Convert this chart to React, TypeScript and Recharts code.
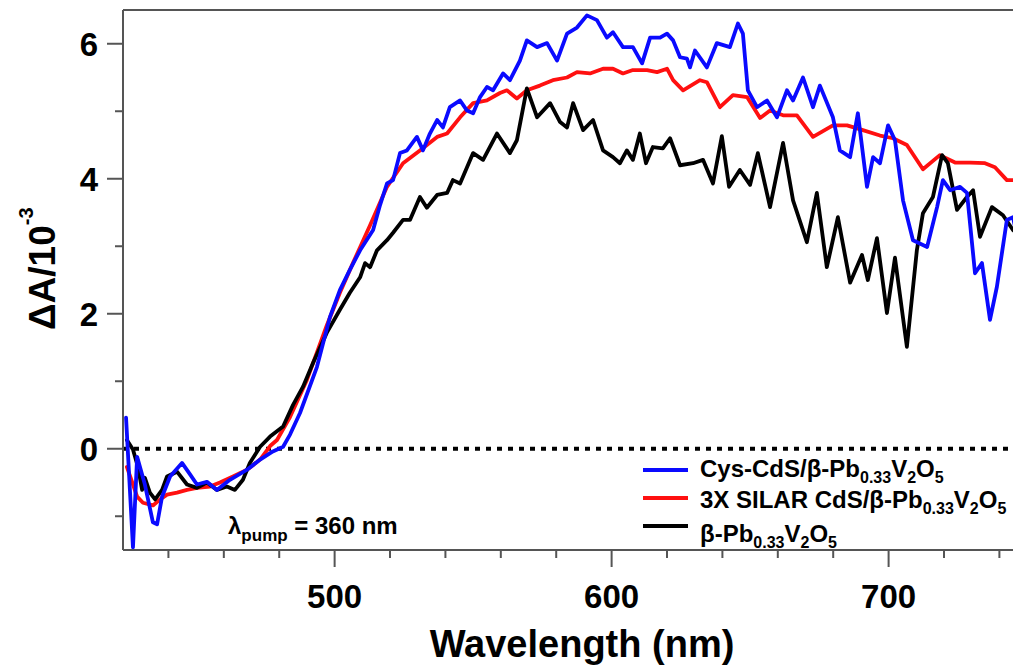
import { LineChart, Line, XAxis, YAxis, ReferenceLine } from "recharts";

// wavelength (nm) / ΔA (10^-3)
const cysNm = [
  424.7, 427.2, 428.7, 431.5, 434.4, 435.9, 437.7, 440.6, 444.9, 447.8,
  450.3, 453.9, 457.5, 462.2, 468.4, 473.1, 477.7, 481.4, 483.9, 487.5,
  493.6, 498.3, 501.9, 505.5, 509.2, 513.9, 516.4, 518.9, 521.1, 523.6,
  526.1, 529.7, 531.9, 534.4, 537.0, 539.1, 541.6, 545.3, 547.8, 550.0,
  552.5, 555.0, 557.2, 560.8, 563.3, 566.9, 569.4, 573.1, 576.7, 580.3,
  583.9, 587.5, 591.1, 594.7, 598.3, 600.5, 604.1, 607.7, 611.0, 613.9,
  617.5, 620.0, 622.2, 624.7, 627.2, 628.3, 630.1, 634.4, 638.0, 642.7,
  645.6, 647.4, 649.2, 652.5, 656.1, 659.7, 663.3, 665.5, 669.1, 672.7,
  675.2, 679.9, 682.4, 686.1, 688.9, 692.2, 694.4, 696.9, 699.8, 702.3,
  705.2, 708.8, 713.9, 717.5, 719.6, 722.2, 725.8, 728.3, 731.2, 733.7,
  736.6, 739.1, 742.7, 744.9, 747.8,
];
const cysDA = [
  0.46, -1.46, -0.12, -0.53, -1.09, -1.12, -0.71, -0.41, -0.21, -0.38,
  -0.53, -0.49, -0.61, -0.46, -0.31, -0.16, -0.04, 0.03, 0.21, 0.53,
  1.21, 1.95, 2.35, 2.65, 2.94, 3.24, 3.61, 3.93, 3.98, 4.38,
  4.42, 4.62, 4.42, 4.67, 4.87, 4.76, 5.06, 5.16, 5.01, 4.97,
  5.21, 5.36, 5.31, 5.56, 5.46, 5.75, 6.05, 5.95, 6.01, 5.75,
  6.15, 6.24, 6.42, 6.35, 6.09, 6.17, 5.95, 5.95, 5.71, 6.09,
  6.09, 6.15, 6.05, 5.8, 5.78, 5.65, 5.9, 5.65, 6.01, 5.95,
  6.3, 6.15, 5.31, 5.06, 5.16, 4.91, 5.31, 5.16, 5.5, 5.06,
  5.38, 4.91, 4.42, 4.32, 4.97, 3.88, 4.32, 4.23, 4.79, 4.57,
  3.68, 3.09, 2.99, 3.58, 3.98, 3.83, 3.88, 3.79, 2.6, 2.75,
  1.91, 2.4, 3.39, 3.43, 2.87,
];

const silarNm = [
  425.0, 428.7, 430.8, 434.4, 437.0, 439.5, 443.1, 446.7, 450.3, 455.0,
  458.6, 463.3, 468.4, 473.1, 476.7, 479.2, 483.9, 490.0, 497.2, 501.9,
  506.6, 512.8, 518.9, 524.7, 530.8, 537.0, 540.6, 545.3, 550.0, 555.0,
  559.7, 562.2, 565.8, 569.4, 574.1, 578.8, 583.9, 587.5, 592.2, 596.9,
  600.5, 604.1, 607.7, 612.8, 616.4, 620.0, 622.2, 625.8, 631.9, 634.4,
  639.1, 643.8, 648.9, 653.6, 657.2, 661.9, 666.9, 672.7, 679.9, 685.0,
  690.7, 696.9, 701.6, 706.6, 712.4, 718.5, 724.0, 729.4, 734.8, 738.4,
  742.7, 747.8,
];
const silarDA = [
  -0.27, -0.71, -0.8, -0.84, -0.75, -0.68, -0.65, -0.61, -0.58, -0.56,
  -0.5, -0.41, -0.31, -0.16, 0.04, 0.13, 0.47, 1.02, 1.83, 2.31,
  2.75, 3.31, 3.88, 4.23, 4.42, 4.62, 4.67, 4.91, 5.12, 5.16,
  5.27, 5.31, 5.19, 5.31, 5.38, 5.46, 5.5, 5.58, 5.56, 5.63,
  5.63, 5.56, 5.61, 5.61, 5.58, 5.63, 5.46, 5.31, 5.46, 5.43,
  5.06, 5.24, 5.21, 4.9, 5.01, 4.94, 4.94, 4.62, 4.79, 4.79,
  4.72, 4.64, 4.6, 4.5, 4.14, 4.35, 4.24, 4.24, 4.23, 4.17,
  3.98, 3.98,
];

const bareNm = [
  425.0, 427.2, 429.0, 430.5, 431.5, 433.3, 435.2, 437.7, 439.5, 443.1,
  446.7, 450.3, 453.9, 457.5, 461.1, 464.0, 466.9, 469.4, 473.1, 476.7,
  481.4, 485.0, 488.6, 492.2, 497.2, 501.9, 505.5, 509.2, 511.0, 512.8,
  515.3, 518.9, 521.1, 524.7, 527.2, 530.8, 533.3, 537.0, 540.6, 542.7,
  545.3, 550.0, 553.6, 558.6, 563.3, 565.8, 569.4, 573.1, 577.8, 581.4,
  583.9, 586.1, 589.7, 593.3, 596.9, 600.5, 603.0, 605.5, 607.7, 610.2,
  612.4, 614.9, 618.5, 621.1, 624.7, 629.4, 633.0, 636.6, 639.8, 642.4,
  646.3, 650.0, 652.8, 657.2, 661.9, 665.5, 670.5, 674.1, 677.7, 681.7,
  686.1, 690.4, 692.5, 695.8, 699.4, 702.3, 706.6, 710.2, 712.4, 716.0,
  719.3, 721.4, 724.7, 728.3, 730.5, 733.0, 737.3, 741.3, 744.9, 747.8,
];
const bareDA = [
  0.13, -0.01, -0.27, -0.61, -0.43, -0.65, -0.75, -0.61, -0.41, -0.34,
  -0.53, -0.58, -0.5, -0.61, -0.56, -0.61, -0.46, -0.21, 0.03, 0.18,
  0.33, 0.65, 0.92, 1.27, 1.72, 2.06, 2.31, 2.54, 2.75, 2.69,
  2.94, 3.09, 3.2, 3.39, 3.39, 3.73, 3.57, 3.76, 3.79, 3.98,
  3.93, 4.38, 4.28, 4.67, 4.38, 4.57, 5.34, 4.91, 5.12, 4.84,
  4.76, 5.12, 4.72, 4.87, 4.42, 4.32, 4.23, 4.42, 4.28, 4.67,
  4.23, 4.47, 4.45, 4.6, 4.2, 4.23, 4.28, 3.93, 4.63, 3.88,
  4.13, 3.91, 4.38, 3.58, 4.53, 3.68, 3.06, 3.79, 2.69, 3.43,
  2.46, 2.87, 2.5, 3.12, 2.01, 2.83, 1.51, 2.94, 3.49, 3.73,
  4.35, 4.23, 3.54, 3.73, 3.83, 3.14, 3.58, 3.46, 3.24, 3.14,
];

const xTicks = [440, 460, 480, 500, 520, 540, 560, 580, 600, 620, 640, 660, 680, 700, 720, 740];
const yTicks = [-1, 0, 1, 2, 3, 4, 5, 6];

// legend label pieces: [text, isSubscript]
const cysLabel: [string, boolean][] = [["Cys-CdS/β-Pb", false], ["0.33", true], ["V", false], ["2", true], ["O", false], ["5", true]];
const silarLabel: [string, boolean][] = [["3X SILAR CdS/β-Pb", false], ["0.33", true], ["V", false], ["2", true], ["O", false], ["5", true]];
const bareLabel: [string, boolean][] = [["β-Pb", false], ["0.33", true], ["V", false], ["2", true], ["O", false], ["5", true]];

const toPoints = (nm: number[], da: number[]) => nm.map((x, i) => ({ nm: x, da: da[i] }));

const BLUE = "#0a0aff";
const RED = "#ff1010";
const BLACK = "#000000";
const AXIS = "#555555";
const TICK_FONT = "'Liberation Sans', Arial, sans-serif";

const YTick = (props: any) => {
  const { x, y, payload } = props;
  const major = payload.value % 2 === 0;
  return (
    <g>
      <line x1={x - (major ? 16 : 8)} x2={x} y1={y} y2={y} stroke={AXIS} strokeWidth={2} />
      {major && (
        <text x={x - 25} y={y} dy="0.36em" textAnchor="end" fontFamily={TICK_FONT} fontWeight="bold" fontSize={33} fill="#000">
          {payload.value}
        </text>
      )}
    </g>
  );
};

const XTick = (props: any) => {
  const { x, y, payload } = props;
  const major = payload.value % 100 === 0;
  return (
    <g>
      <line x1={x} x2={x} y1={y} y2={y + (major ? 17 : 8)} stroke={AXIS} strokeWidth={2} />
      {major && (
        <text x={x} y={y + 58} textAnchor="middle" fontFamily={TICK_FONT} fontWeight="bold" fontSize={33} fill="#000">
          {payload.value}
        </text>
      )}
    </g>
  );
};

const LegendText = ({ parts, x, y }: { parts: [string, boolean][]; x: number; y: number }) => {
  let prevSub = false;
  return (
    <text x={x} y={y} fontFamily={TICK_FONT} fontWeight="bold" fontSize={24} fill="#000">
      {parts.map(([t, sub], i) => {
        const dy = sub && !prevSub ? 6 : !sub && prevSub ? -6 : 0;
        prevSub = sub;
        return (
          <tspan key={i} dy={dy} fontSize={sub ? 16 : 24}>
            {t}
          </tspan>
        );
      })}
    </text>
  );
};

const legendRows = [
  { parts: cysLabel, color: BLUE, lineY: 462, textY: 469 },
  { parts: silarLabel, color: RED, lineY: 490, textY: 500 },
  { parts: bareLabel, color: BLACK, lineY: 518, textY: 534 },
];

const lineStyle = { strokeLinejoin: "round" as const, strokeLinecap: "round" as const };

export default function App() {
  const W = 1013;
  const H = 659;
  return (
    <div style={{ position: "relative", width: W, height: H, background: "#fff" }}>
      <LineChart width={W} height={H} margin={{ top: 2, right: 0, bottom: 0, left: 0 }}>
        <XAxis
          dataKey="nm"
          type="number"
          domain={[423.6, 747.8]}
          allowDataOverflow
          ticks={xTicks}
          tick={<XTick />}
          tickLine={false}
          tickSize={0}
          tickMargin={0}
          height={117}
          axisLine={{ stroke: AXIS, strokeWidth: 2 }}
          interval={0}
        />
        <YAxis
          type="number"
          domain={[-1.5, 6.5]}
          allowDataOverflow
          ticks={yTicks}
          tick={<YTick />}
          tickLine={false}
          tickSize={0}
          tickMargin={0}
          width={115}
          axisLine={{ stroke: AXIS, strokeWidth: 2 }}
          interval={0}
        />
        <ReferenceLine y={6.5} stroke={AXIS} strokeWidth={2} />
        <ReferenceLine y={0} stroke="#000" strokeWidth={4} strokeDasharray="5 6" />
        <Line data={toPoints(silarNm, silarDA)} dataKey="da" type="linear" stroke={RED} strokeWidth={3.8} style={lineStyle} dot={false} isAnimationActive={false} />
        <Line data={toPoints(bareNm, bareDA)} dataKey="da" type="linear" stroke={BLACK} strokeWidth={3.8} style={lineStyle} dot={false} isAnimationActive={false} />
        <Line data={toPoints(cysNm, cysDA)} dataKey="da" type="linear" stroke={BLUE} strokeWidth={3.8} style={lineStyle} dot={false} isAnimationActive={false} />
      </LineChart>

      <svg width={W} height={H} style={{ position: "absolute", left: 0, top: 0, pointerEvents: "none" }}>
        {/* axis titles */}
        <text x={574} y={649} textAnchor="middle" fontFamily={TICK_FONT} fontWeight="bold" fontSize={38} fill="#000">
          Wavelength (nm)
        </text>
        <text transform="translate(47, 322) rotate(-90)" fontFamily={TICK_FONT} fontWeight="bold" fontSize={37} fill="#000">
          ΔA/10
          <tspan dy={-22} fontSize={20}>
            -3
          </tspan>
        </text>

        {/* pump annotation */}
        <text x={220} y={526} fontFamily={TICK_FONT} fontWeight="bold" fontSize={24} fill="#000">
          λ
          <tspan dy={7} fontSize={17}>
            pump
          </tspan>
          <tspan dy={-7}> = 360 nm</tspan>
        </text>

        {/* legend */}
        {legendRows.map((r, i) => (
          <g key={i}>
            <line x1={635} x2={680} y1={r.lineY} y2={r.lineY} stroke={r.color} strokeWidth={4} />
            <LegendText parts={r.parts} x={692} y={r.textY} />
          </g>
        ))}
      </svg>
    </div>
  );
}
